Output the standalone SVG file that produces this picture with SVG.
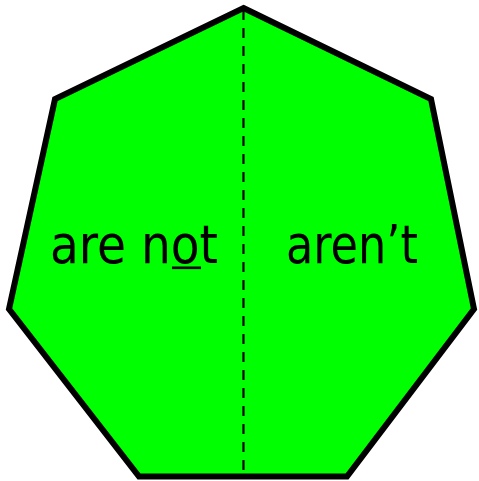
<svg xmlns="http://www.w3.org/2000/svg" width="479" height="481" viewBox="0 0 479 481">
<style>
.shape{fill:#00ff00;stroke:#000;stroke-width:6;stroke-linejoin:miter}
.lbl{font-family:"DejaVu Sans Condensed","DejaVu Sans",sans-serif;font-size:53px;fill:#000}
.div{stroke:#000;stroke-width:2.2;stroke-dasharray:10 8;fill:none}
</style>
<rect width="479" height="481" fill="#fff"/>
<g id="heptagon">
<polygon class="shape" points="243.5,8 431,99 474,309 347,476.5 139,476.5 9,309 55,99"/>
</g>
<g id="connectors">
<line class="div" x1="243.5" y1="10" x2="243.5" y2="474"/>
</g>
<g id="left">
<text class="lbl" x="50" y="263" textLength="168" lengthAdjust="spacingAndGlyphs">are not</text>
<rect x="172" y="266.5" width="29" height="2.6" fill="#000"/>
</g>
<g id="right">
<text class="lbl" x="286" y="263" textLength="132" lengthAdjust="spacingAndGlyphs">aren’t</text>
</g>
</svg>
